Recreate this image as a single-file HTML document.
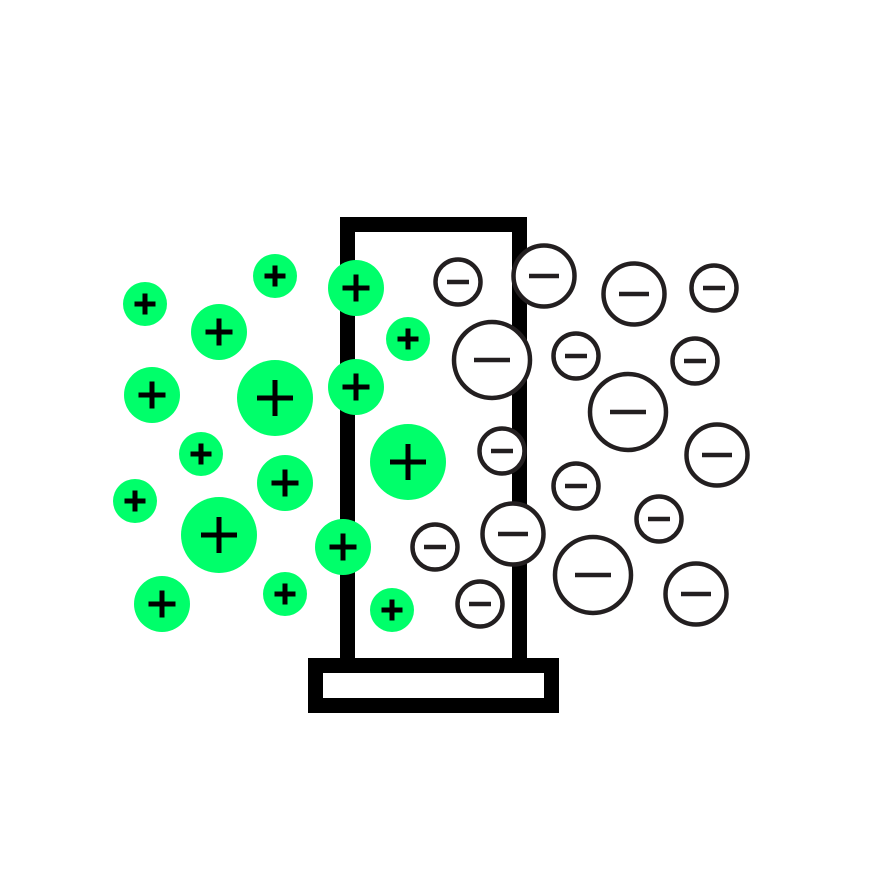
<!DOCTYPE html>
<html><head><style>body{margin:0;background:#fff}svg{display:block}</style></head><body>
<svg width="884" height="884" viewBox="0 0 884 884" xmlns="http://www.w3.org/2000/svg">
<rect width="884" height="884" fill="#fff"/>
<rect x="347.5" y="224.5" width="172" height="441" fill="#fff" stroke="#000" stroke-width="15"/>
<rect x="315.5" y="665.5" width="236" height="40" fill="#fff" stroke="#000" stroke-width="15"/>
<g fill="#00ff6a">
<circle cx="145" cy="304" r="22"/><circle cx="275" cy="276" r="22"/><circle cx="219" cy="332" r="28"/><circle cx="356" cy="288" r="28"/><circle cx="408" cy="339" r="22"/><circle cx="152" cy="395" r="28"/><circle cx="275" cy="398" r="38"/><circle cx="356" cy="387" r="28"/><circle cx="201" cy="454" r="22"/><circle cx="408" cy="462" r="38"/><circle cx="285" cy="483" r="28"/><circle cx="135" cy="501" r="22"/><circle cx="219" cy="535" r="38"/><circle cx="343" cy="547" r="28"/><circle cx="162" cy="604" r="28"/><circle cx="285" cy="594" r="22"/><circle cx="392" cy="610" r="22"/>
</g>
<path stroke="#000" stroke-width="5" fill="none" d="M134.5 304H155.5M145 293.5V314.5M264.5 276H285.5M275 265.5V286.5M205.5 332H232.5M219 318.5V345.5M342.5 288H369.5M356 274.5V301.5M397.5 339H418.5M408 328.5V349.5M138.5 395H165.5M152 381.5V408.5M257 398H293M275 380V416M342.5 387H369.5M356 373.5V400.5M190.5 454H211.5M201 443.5V464.5M390 462H426M408 444V480M271.5 483H298.5M285 469.5V496.5M124.5 501H145.5M135 490.5V511.5M201 535H237M219 517V553M329.5 547H356.5M343 533.5V560.5M148.5 604H175.5M162 590.5V617.5M274.5 594H295.5M285 583.5V604.5M381.5 610H402.5M392 599.5V620.5"/>
<g fill="#fff" stroke="#231f20" stroke-width="4.5">
<circle cx="458" cy="282" r="22.5"/><circle cx="544" cy="276" r="30.5"/><circle cx="634" cy="294" r="30.5"/><circle cx="714" cy="288" r="22.5"/><circle cx="492" cy="360" r="38"/><circle cx="576" cy="356" r="22.5"/><circle cx="695" cy="361" r="22.5"/><circle cx="628" cy="412" r="38"/><circle cx="502" cy="451" r="22.5"/><circle cx="717" cy="455" r="30.5"/><circle cx="576" cy="486" r="22.5"/><circle cx="659" cy="519" r="22.5"/><circle cx="435" cy="547" r="22.5"/><circle cx="513" cy="534" r="30.5"/><circle cx="593" cy="575" r="38"/><circle cx="480" cy="604" r="22.5"/><circle cx="696" cy="594" r="30.5"/>
</g>
<path stroke="#231f20" stroke-width="4.5" fill="none" d="M447 282H469M529 276H559M619 294H649M703 288H725M474 360H510M565 356H587M684 361H706M610 412H646M491 451H513M702 455H732M565 486H587M648 519H670M424 547H446M498 534H528M575 575H611M469 604H491M681 594H711"/>
</svg>
</body></html>
